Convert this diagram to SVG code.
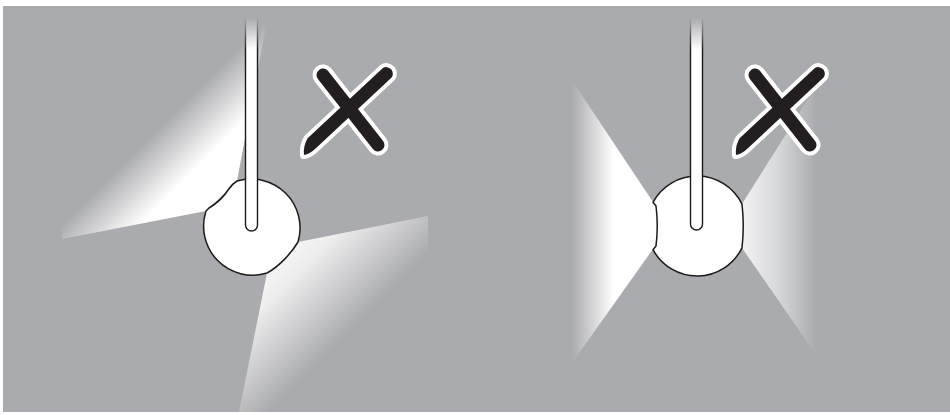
<svg xmlns="http://www.w3.org/2000/svg" width="950" height="415" viewBox="0 0 950 415">
<defs>
<style>
.bg{fill:#aaabae}
.disk{fill:#fff;stroke:#1a1a1a;stroke-width:1.5;stroke-linejoin:round}
.rod{fill:#fff;stroke:#1a1a1a;stroke-width:1.4}
.xw{fill:#fff;stroke:#fff;stroke-linecap:round;stroke-linejoin:round}
.xb{fill:#231f20;stroke:#231f20;stroke-linecap:round}
</style>
<linearGradient id="gUL" gradientUnits="userSpaceOnUse" x1="222" y1="195" x2="157" y2="130">
<stop offset="0" stop-color="#fff"/><stop offset="0.4" stop-color="#fff"/><stop offset="1" stop-color="#aaabae"/>
</linearGradient>
<linearGradient id="gLR" gradientUnits="userSpaceOnUse" x1="283" y1="258" x2="353" y2="328">
<stop offset="0" stop-color="#f4f4f5"/><stop offset="0.2" stop-color="#eeeeef"/><stop offset="1" stop-color="#aaabae"/>
</linearGradient>
<linearGradient id="gRL" gradientUnits="userSpaceOnUse" x1="572" y1="0" x2="614" y2="0">
<stop offset="0" stop-color="#aaabae"/><stop offset="1" stop-color="#fff"/>
</linearGradient>
<linearGradient id="gRR" gradientUnits="userSpaceOnUse" x1="742" y1="0" x2="816" y2="0">
<stop offset="0" stop-color="#f2f2f3"/><stop offset="0.5" stop-color="#d6d7d9"/><stop offset="1" stop-color="#aaabae"/>
</linearGradient>
<linearGradient id="gFade" gradientUnits="userSpaceOnUse" x1="0" y1="18" x2="0" y2="50">
<stop offset="0" stop-color="#000"/><stop offset="1" stop-color="#fff"/>
</linearGradient>
<mask id="mFade" maskUnits="userSpaceOnUse" x="0" y="0" width="950" height="415">
<rect width="950" height="415" fill="url(#gFade)"/>
</mask>
<g id="xmark">
<line class="xw" x1="323" y1="75" x2="378" y2="145" stroke-width="21"/>
<path class="xw" d="M382.6,68.3 A6.5,6.5 0 0 1 391.4,77.7 L316.4,147.7 Q310,154 304,155 Q303,146 307.6,138.3 Z" stroke-width="8"/>
<line class="xb" x1="323" y1="75" x2="378" y2="145" stroke-width="13"/>
<path d="M382.6,68.3 A6.5,6.5 0 0 1 391.4,77.7 L316.4,147.7 Q310,154 304,155 Q303,146 307.6,138.3 Z" fill="#231f20"/>
</g>
</defs>
<rect id="background" class="bg" x="3" y="6" width="947" height="406"/>
<g id="left-lamp">
<g id="left-beams">
<path d="M40,12 L266,26 L237,181 L228,190 L209,208 L206,211 L62,239 Z" fill="url(#gUL)"/>
<path d="M298,242 L428,216 L428,412 L239,412 L267,273 C280,266 292,252 298,242 Z" fill="url(#gLR)"/>
</g>
<path id="left-disk" class="disk" d="M237,181 A49,49 0 0 1 298,242 C292,252 280,266 267,273 A49,49 0 0 1 206,211 L209,208 Q222,200 228,190 Q232,184 237,181 Z"/>
<rect id="left-rod" class="rod" x="245.5" y="12" width="12" height="219" rx="6" mask="url(#mFade)"/>
</g>
<g id="left-x"><use href="#xmark"/></g>
<g id="right-lamp">
<g id="right-beams">
<path d="M573,82 L653,202 L656,206 Q658.5,226 656,246 L653,249 L572,363 Z" fill="url(#gRL)"/>
<path d="M742,204 L815,88 L821,362 L742,248 Z" fill="url(#gRR)"/>
</g>
<path id="right-disk" class="disk" d="M653,202.3 A50,50 0 0 1 742,204.2 Q744.5,226 742,247.8 A50,50 0 0 1 653,249.7 L656,246 Q658.5,226 656,206 Z"/>
<rect id="right-rod" class="rod" x="690.5" y="12" width="12" height="218" rx="6" mask="url(#mFade)"/>
</g>
<g id="right-x"><use href="#xmark" transform="translate(432,0)"/></g>
</svg>
